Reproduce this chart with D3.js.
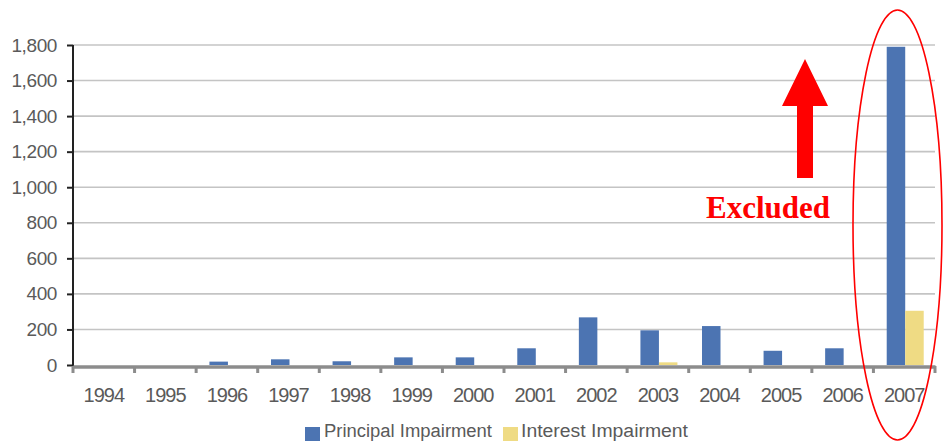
<!DOCTYPE html>
<html>
<head>
<meta charset="utf-8">
<script src="https://cdn.jsdelivr.net/npm/d3@7"></script>
<style>
  html, body { margin: 0; padding: 0; background: #fff; }
  svg { display: block; }
  text { font-family: "Liberation Sans", Arial, sans-serif; }
</style>
</head>
<body>
<svg id="chart" width="943" height="442"></svg>
<script>
const years = ["1994","1995","1996","1997","1998","1999","2000","2001","2002","2003","2004","2005","2006","2007"];
const principal = [0, 0, 19, 32, 21, 43, 43, 94, 268, 195, 219, 80, 94, 1790];
const interest  = [0, 0, 0, 0, 0, 0, 0, 0, 0, 15, 0, 0, 0, 305];
const yTicks = [0, 200, 400, 600, 800, 1000, 1200, 1400, 1600, 1800];
const seriesNames = ["Principal Impairment", "Interest Impairment"];
const colors = ["#4C74B2", "#EFDB84"];

const svg = d3.select("#chart");
const mLeft = 73, mRight = 935, mTop = 45, mBottom = 365;

const x = d3.scaleBand().domain(years).range([mLeft, mRight]).padding(0);
const y = d3.scaleLinear().domain([0, 1800]).range([mBottom, mTop]);

// gridlines
svg.append("g")
  .selectAll("line")
  .data(yTicks.filter(d => d > 0))
  .join("line")
  .attr("x1", mLeft).attr("x2", mRight)
  .attr("y1", d => y(d)).attr("y2", d => y(d))
  .attr("stroke", "#c4c4c4").attr("stroke-width", 1.6);

// y axis
const yAxis = svg.append("g")
  .attr("transform", `translate(${mLeft},0)`)
  .call(d3.axisLeft(y).tickValues(yTicks).tickSize(6).tickPadding(10).tickFormat(d3.format(",")));
yAxis.select(".domain").attr("stroke", "#222").attr("stroke-width", 2).attr("d", `M0,${mTop}V${mBottom + 2}`);
yAxis.selectAll(".tick line").attr("stroke", "#222").attr("stroke-width", 2);
yAxis.selectAll(".tick text")
  .attr("fill", "#5a5a5a")
  .style("font-size", "19px")
  .style("font-family", "'Liberation Sans', Arial, sans-serif")
  .style("letter-spacing", "-0.4px");

// bars
const barW = 18.5;
const bars = svg.append("g");
years.forEach((yr, i) => {
  const c = x(yr) + x.bandwidth() / 2 + 1;
  [principal[i], interest[i]].forEach((v, s) => {
    if (v <= 0) return;
    bars.append("rect")
      .attr("x", s === 0 ? c - barW : c)
      .attr("y", y(v))
      .attr("width", barW)
      .attr("height", y(0) - y(v))
      .attr("fill", colors[s]);
  });
});

// x axis
const xAxis = svg.append("g")
  .attr("transform", `translate(0,${mBottom + 1.5})`)
  .call(d3.axisBottom(x).tickSize(0).tickPadding(21));
xAxis.select(".domain").attr("stroke", "#8c8c8c").attr("stroke-width", 3.5);
xAxis.selectAll(".tick text")
  .attr("fill", "#5a5a5a")
  .style("font-size", "20px")
  .style("font-family", "'Liberation Sans', Arial, sans-serif")
  .style("letter-spacing", "-1px");
// boundary tick marks
svg.append("g")
  .selectAll("line")
  .data(years.concat(["end"]))
  .join("line")
  .attr("x1", (d, i) => i < years.length ? x(d) : mRight)
  .attr("x2", (d, i) => i < years.length ? x(d) : mRight)
  .attr("y1", mBottom + 1).attr("y2", mBottom + 8)
  .attr("stroke", "#8c8c8c").attr("stroke-width", 3);

// legend
const legend = svg.append("g");
const legendItems = [
  { name: seriesNames[0], color: colors[0], x: 305, tx: 324, w: 168 },
  { name: seriesNames[1], color: colors[1], x: 503, tx: 521, w: 167 }
];
legendItems.forEach(it => {
  legend.append("rect").attr("x", it.x).attr("y", 427).attr("width", 15).attr("height", 14).attr("fill", it.color);
  legend.append("text").attr("x", it.tx).attr("y", 437)
    .attr("fill", "#5a5a5a")
    .style("font-size", "18px")
    .attr("textLength", it.w)
    .attr("lengthAdjust", "spacingAndGlyphs")
    .text(it.name);
});

// annotation
const ann = svg.append("g");
ann.append("path")
  .attr("d", "M805,59 L828,106 L813,106 L813,178 L797,178 L797,106 L782,106 Z")
  .attr("fill", "#ff0000");
ann.append("text")
  .attr("x", 768).attr("y", 218)
  .attr("text-anchor", "middle")
  .attr("fill", "#ff0000")
  .style("font-family", "'Liberation Serif', 'Times New Roman', serif")
  .style("font-weight", "bold")
  .style("font-size", "31px")
  .text("Excluded");
ann.append("ellipse")
  .attr("cx", 897.5).attr("cy", 225).attr("rx", 44.5).attr("ry", 215)
  .attr("fill", "none").attr("stroke", "#ff0000").attr("stroke-width", 1.6);
</script>
</body>
</html>
